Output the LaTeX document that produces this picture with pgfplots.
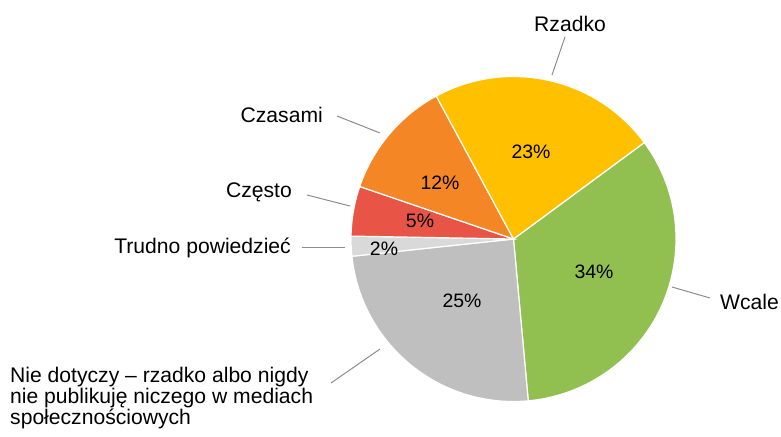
\documentclass[border=0pt]{standalone}
\usepackage{fontspec}
\setmainfont{Liberation Sans}
\usepackage{pgfplots}
\pgfplotsset{compat=1.18}

\definecolor{cWcale}{HTML}{92C050}
\definecolor{cNie}{HTML}{BFBFBF}
\definecolor{cTrudno}{HTML}{D9D9D9}
\definecolor{cCzesto}{HTML}{E85446}
\definecolor{cCzasami}{HTML}{F58626}
\definecolor{cRzadko}{HTML}{FFC000}
\definecolor{leader}{HTML}{8C8C8C}

\newcommand\lblfont{\fontsize{21.2}{21}\selectfont}
\newcommand\pctfont{\fontsize{19.5}{20}\selectfont}

% one wedge: colour, start angle, end angle (clockwise)
\newcommand\slice[3]{%
  \fill[#1, draw=white, line width=1.2pt] (axis cs:513.5,239) -- ++(#2:162.5bp)
    arc[start angle=#2, end angle=#3, radius=162.5bp] -- cycle;}

\begin{document}
\begin{tikzpicture}
% shares in percent: Wcale 34, Nie dotyczy 25, Trudno 2, Czesto 5, Czasami 12, Rzadko 23
\pgfmathsetmacro\unitdeg{360/101}
\pgfmathsetmacro\aA{36.4}
\pgfmathsetmacro\aB{\aA-34*\unitdeg}
\pgfmathsetmacro\aC{\aB-25*\unitdeg}
\pgfmathsetmacro\aD{\aC-2*\unitdeg}
\pgfmathsetmacro\aE{\aD-5*\unitdeg}
\pgfmathsetmacro\aF{\aE-12*\unitdeg}
\pgfmathsetmacro\aG{\aF-23*\unitdeg}
\path[use as bounding box] (0,0) rectangle (781bp,437bp);
\begin{axis}[
    at={(0,0)}, anchor=south west,
    scale only axis,
    width=781bp, height=437bp,
    xmin=0, xmax=781, ymin=0, ymax=437,
    y dir=reverse,
    hide axis,
    clip=false,
]
\slice{cWcale}{\aA}{\aB}
\slice{cNie}{\aB}{\aC}
\slice{cTrudno}{\aC}{\aD}
\slice{cCzesto}{\aD}{\aE}
\slice{cCzasami}{\aE}{\aF}
\slice{cRzadko}{\aF}{\aG}

% leader lines
\addplot[leader, line width=1bp] coordinates {(552,75) (565,37)};
\addplot[leader, line width=1bp] coordinates {(337,116) (380,133)};
\addplot[leader, line width=1bp] coordinates {(307,195) (350,206)};
\addplot[leader, line width=1bp] coordinates {(302,247) (345,247)};
\addplot[leader, line width=1bp] coordinates {(672,287) (710,298)};
\addplot[leader, line width=1bp] coordinates {(331,383) (380,349)};

% category labels
\node[font=\lblfont, inner sep=0pt, anchor=base west] at (axis cs:534,32) {Rzadko};
\node[font=\lblfont, inner sep=0pt, anchor=base east] at (axis cs:323,122) {Czasami};
\node[font=\lblfont, inner sep=0pt, anchor=base east] at (axis cs:292,197) {Często};
\node[font=\lblfont, inner sep=0pt, anchor=base east] at (axis cs:291,253) {Trudno powiedzieć};
\node[font=\lblfont, inner sep=0pt, anchor=base east] at (axis cs:779,309) {Wcale};
\node[font=\lblfont, inner sep=0pt, anchor=base west] at (axis cs:10,382) {Nie dotyczy – rzadko albo nigdy};
\node[font=\lblfont, inner sep=0pt, anchor=base west] at (axis cs:10,403) {nie publikuję niczego w mediach};
\node[font=\lblfont, inner sep=0pt, anchor=base west] at (axis cs:10,424) {społecznościowych};

% percentages
\node[font=\pctfont, inner sep=0pt] at (axis cs:531,152) {23\%};
\node[font=\pctfont, inner sep=0pt] at (axis cs:594,272) {34\%};
\node[font=\pctfont, inner sep=0pt] at (axis cs:462,301) {25\%};
\node[font=\pctfont, inner sep=0pt] at (axis cs:384,249) {2\%};
\node[font=\pctfont, inner sep=0pt] at (axis cs:420,221) {5\%};
\node[font=\pctfont, inner sep=0pt] at (axis cs:440,183) {12\%};
\end{axis}
\end{tikzpicture}
\end{document}
